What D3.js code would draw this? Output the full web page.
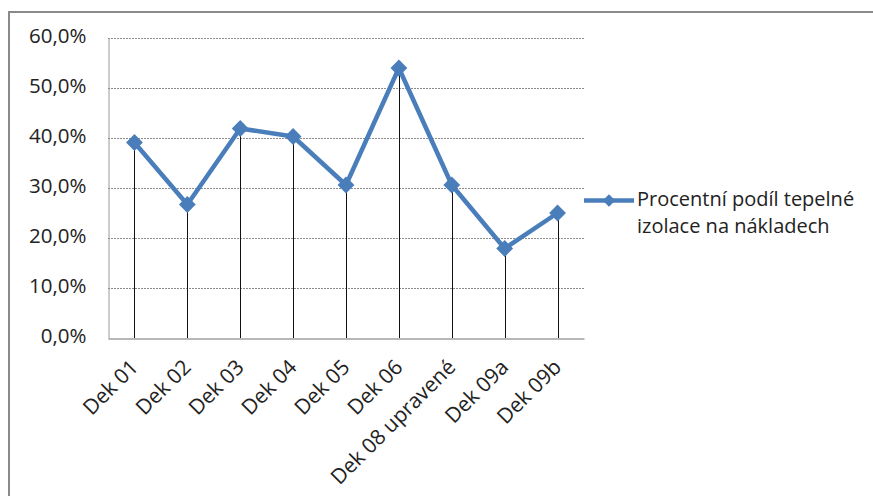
<!DOCTYPE html>
<html><head><meta charset="utf-8">
<script src="https://cdn.jsdelivr.net/npm/d3@7"></script>
<style>body{margin:0;background:#fff;}svg{display:block;font-family:"Open Sans",sans-serif;}</style>
</head><body>
<script>
const categories = ["Dek 01","Dek 02","Dek 03","Dek 04","Dek 05","Dek 06","Dek 08 upravené","Dek 09a","Dek 09b"];
const values = [0.391, 0.267, 0.419, 0.403, 0.306, 0.540, 0.306, 0.179, 0.250];
const yTicks = [0, 0.1, 0.2, 0.3, 0.4, 0.5, 0.6];
const seriesName = ["Procentní podíl tepelné", "izolace na nákladech"];

const W = 873, H = 496;
const m = {left:108, right:584, top:38, bottom:338};
const blue = "#4a7ebb";
const FS = 20.5;
const svg = d3.select("body").append("svg").attr("width", W).attr("height", H);

// outer frame
svg.append("rect").attr("x",9).attr("y",12).attr("width",W).attr("height",H)
  .attr("fill","none").attr("stroke","#8a8a8a").attr("stroke-width",2);

const x = d3.scaleBand().domain(categories).range([m.left, m.right]);
const y = d3.scaleLinear().domain([0, 0.6]).range([m.bottom, m.top]);

// gridlines
svg.append("g").selectAll("line").data(yTicks.filter(d=>d>0)).join("line")
  .attr("x1", m.left).attr("x2", m.right)
  .attr("y1", d=>Math.round(y(d))+0.5).attr("y2", d=>Math.round(y(d))+0.5)
  .attr("stroke","#8c8c8c").attr("stroke-width",1).attr("stroke-dasharray","2,1");

// y axis
const yAxis = d3.axisLeft(y).tickValues(yTicks).tickSize(0).tickPadding(0)
  .tickFormat(d => (d*100).toFixed(1).replace(".", ",") + "%");
const ya = svg.append("g").attr("transform", `translate(${m.left+0.5},0)`).call(yAxis);
ya.select(".domain").attr("stroke","#9a9a9a");
ya.selectAll("text").attr("x", -22).attr("dy","0.33em").attr("y",-2)
  .attr("font-size", FS).attr("fill","#222").attr("font-family","'Open Sans',sans-serif");

// x axis
const xAxis = d3.axisBottom(x).tickSize(0).tickPadding(0);
const xa = svg.append("g").attr("transform", `translate(0,${m.bottom+0.5})`).call(xAxis);
xa.select(".domain").attr("stroke","#a0a0a0").attr("stroke-width",1.5);
xa.selectAll("text").attr("text-anchor","end").attr("font-size",21).attr("fill","#222")
  .attr("font-family","'Open Sans',sans-serif")
  .attr("x", 0).attr("y", 0).attr("dy", 0)
  .attr("transform", "translate(5,30) rotate(-45)");

// drop lines
svg.append("g").selectAll("line").data(values).join("line")
  .attr("x1", (d,i)=>Math.round(x(categories[i])+x.bandwidth()/2)+0.5)
  .attr("x2", (d,i)=>Math.round(x(categories[i])+x.bandwidth()/2)+0.5)
  .attr("y1", d=>y(d)).attr("y2", m.bottom)
  .attr("stroke","#111").attr("stroke-width",1);

// line
const line = d3.line().x((d,i)=>x(categories[i])+x.bandwidth()/2).y(d=>y(d));
svg.append("path").datum(values).attr("d", line).attr("fill","none")
  .attr("stroke", blue).attr("stroke-width",4.5).attr("stroke-linejoin","round");

const diamond = d3.symbol().type(d3.symbolDiamond2).size(180);
svg.append("g").selectAll("path").data(values).join("path")
  .attr("d", diamond)
  .attr("transform", (d,i)=>`translate(${x(categories[i])+x.bandwidth()/2},${y(d)})`)
  .attr("fill", blue);

// legend
const lg = svg.append("g");
lg.append("line").attr("x1",584).attr("x2",634).attr("y1",200.5).attr("y2",200.5)
  .attr("stroke",blue).attr("stroke-width",4.5);
lg.append("path").attr("d", d3.symbol().type(d3.symbolDiamond2).size(100))
  .attr("transform","translate(609,200.5)").attr("fill",blue);
lg.selectAll("text").data(seriesName).join("text")
  .attr("x",637).attr("y",(d,i)=>205.5+i*27.4)
  .attr("font-size",20).attr("fill","#222").text(d=>d);
</script>
</body></html>
